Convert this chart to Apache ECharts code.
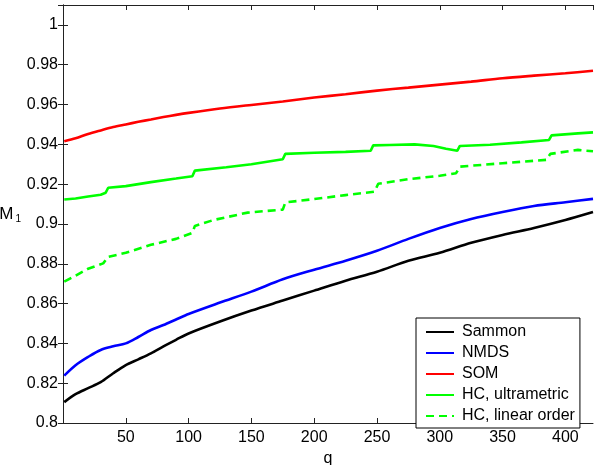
<!DOCTYPE html>
<html>
<head>
<meta charset="utf-8">
<script src="https://cdn.jsdelivr.net/npm/echarts@6/dist/echarts.min.js"></script>
<style>
  html, body { margin: 0; padding: 0; background: #fff; }
  #main { width: 600px; height: 465px; }
</style>
</head>
<body>
<div id="main"></div>
<script>
// shared q grid for the smooth curves
var qGrid = [1, 10, 20, 30, 40, 50, 60, 70, 80, 90, 100, 125, 150, 175, 200, 225, 250, 275, 300, 325, 350, 375, 400, 422];

var sammon = [0.8105, 0.8145, 0.8175, 0.8205, 0.825, 0.8291, 0.832, 0.835, 0.8385, 0.8418, 0.845, 0.851, 0.8565, 0.8615, 0.8665, 0.8715, 0.876, 0.8815, 0.8855, 0.8905, 0.8945, 0.898, 0.902, 0.906];
var nmds = [0.8238, 0.829, 0.8332, 0.8367, 0.8385, 0.840, 0.8432, 0.8467, 0.8492, 0.852, 0.8548, 0.8605, 0.866, 0.8722, 0.877, 0.8815, 0.8865, 0.8925, 0.898, 0.9025, 0.906, 0.909, 0.9109, 0.9126];
var som = [0.9415, 0.943, 0.9452, 0.947, 0.9487, 0.950, 0.9513, 0.9525, 0.9537, 0.9548, 0.9558, 0.958, 0.9598, 0.9615, 0.9635, 0.9652, 0.967, 0.9685, 0.970, 0.9715, 0.9732, 0.9745, 0.9757, 0.977];

// the HC curves are step-like, so they get their own q values
var hcUltraQ = [1, 10, 20, 30, 34, 36, 50, 70, 90, 103, 105, 130, 150, 175, 177, 200, 225, 245, 247, 260, 280, 295, 305, 314, 316, 340, 365, 387, 389, 410, 422];
var hcUltra = [0.9123, 0.9128, 0.9138, 0.9147, 0.9157, 0.9182, 0.919, 0.921, 0.9228, 0.924, 0.9268, 0.9285, 0.930, 0.9325, 0.9352, 0.9358, 0.9362, 0.9368, 0.9395, 0.9397, 0.940, 0.9392, 0.9378, 0.9368, 0.9392, 0.9398, 0.941, 0.9422, 0.9445, 0.9455, 0.946];

var hcLinearQ = [1, 10, 20, 32, 36, 50, 70, 90, 103, 105, 120, 147, 171, 175, 177, 200, 225, 248, 251, 275, 300, 313, 316, 350, 385, 388, 410, 422];
var hcLinear = [0.871, 0.874, 0.8775, 0.8802, 0.8835, 0.8855, 0.8895, 0.8925, 0.8955, 0.899, 0.902, 0.9057, 0.907, 0.9072, 0.9108, 0.9125, 0.9145, 0.9162, 0.9202, 0.9225, 0.9242, 0.9255, 0.9288, 0.9305, 0.9322, 0.9352, 0.9372, 0.9365];

function pairs(xs, ys) {
  return xs.map(function (x, i) { return [x, ys[i]]; });
}

var font = 'Liberation Sans, Arial, sans-serif';
var chart = echarts.init(document.getElementById('main'), null, { renderer: 'canvas' });

function line(name, xs, ys, color, type, smooth) {
  return {
    name: name,
    type: 'line',
    data: pairs(xs, ys),
    symbol: 'none',
    smooth: smooth || false,
    animation: false,
    lineStyle: { color: color, width: 2.6, type: type || 'solid' },
    itemStyle: { color: color }
  };
}

var axisColor = '#222';

var option = {
  backgroundColor: '#fff',
  animation: false,
  textStyle: { fontFamily: font },
  grid: { left: 63, right: 7, top: 5, bottom: 42, outerBoundsMode: 'none' },
  legend: {
    orient: 'vertical',
    left: 416,
    top: 318,
    itemWidth: 28,
    itemHeight: 14,
    itemGap: 5,
    padding: [6, 5, 4, 9],
    borderColor: '#000',
    borderWidth: 1,
    backgroundColor: '#fff',
    itemStyle: { opacity: 0 },
    textStyle: { fontSize: 16, color: '#000', fontFamily: font, padding: [0, 0, 0, 3] },
    data: ['Sammon', 'NMDS', 'SOM', 'HC, ultrametric', 'HC, linear order']
  },
  xAxis: [{
    type: 'value',
    min: 0,
    max: 422,
    interval: 50,
    name: 'q',
    nameLocation: 'middle',
    nameGap: 23,
    nameTextStyle: { fontSize: 16, color: '#000' },
    axisLine: { show: true, lineStyle: { color: axisColor, width: 1 } },
    axisTick: { inside: true, length: 5, lineStyle: { color: axisColor } },
    axisLabel: { fontSize: 16, color: '#000', margin: 7, showMinLabel: false, showMaxLabel: false },
    splitLine: { show: false }
  }, {
    type: 'value',
    position: 'top',
    min: 0,
    max: 422,
    interval: 50,
    axisLine: { show: true, lineStyle: { color: axisColor, width: 1 } },
    axisTick: { inside: true, length: 5, lineStyle: { color: axisColor } },
    axisLabel: { show: false },
    splitLine: { show: false }
  }],
  yAxis: [{
    type: 'value',
    min: 0.8,
    max: 1.01,
    interval: 0.02,
    name: '{m|M}{s|1}',
    nameLocation: 'middle',
    nameRotate: 0,
    nameGap: 41,
    nameTextStyle: {
      rich: {
        m: { fontSize: 17, color: '#000', fontFamily: font },
        s: { fontSize: 10, color: '#000', fontFamily: font, padding: [10, 0, 0, 2] }
      }
    },
    axisLine: { show: true, lineStyle: { color: axisColor, width: 1 } },
    axisTick: { inside: true, length: 5, lineStyle: { color: axisColor } },
    axisLabel: { fontSize: 16, color: '#000', margin: 5, showMaxLabel: false },
    splitLine: { show: false }
  }, {
    type: 'value',
    position: 'right',
    min: 0.8,
    max: 1.01,
    interval: 0.02,
    axisLine: { show: true, lineStyle: { color: axisColor, width: 1 } },
    axisTick: { inside: true, length: 5, lineStyle: { color: axisColor } },
    axisLabel: { show: false },
    splitLine: { show: false }
  }],
  series: [
    line('Sammon', qGrid, sammon, '#000000', 'solid', 0.3),
    line('NMDS', qGrid, nmds, '#0000ff', 'solid', 0.3),
    line('SOM', qGrid, som, '#ff0000', 'solid', 0.3),
    line('HC, ultrametric', hcUltraQ, hcUltra, '#00ff00'),
    line('HC, linear order', hcLinearQ, hcLinear, '#00ff00', [8, 5])
  ]
};

chart.setOption(option);
</script>
</body>
</html>
